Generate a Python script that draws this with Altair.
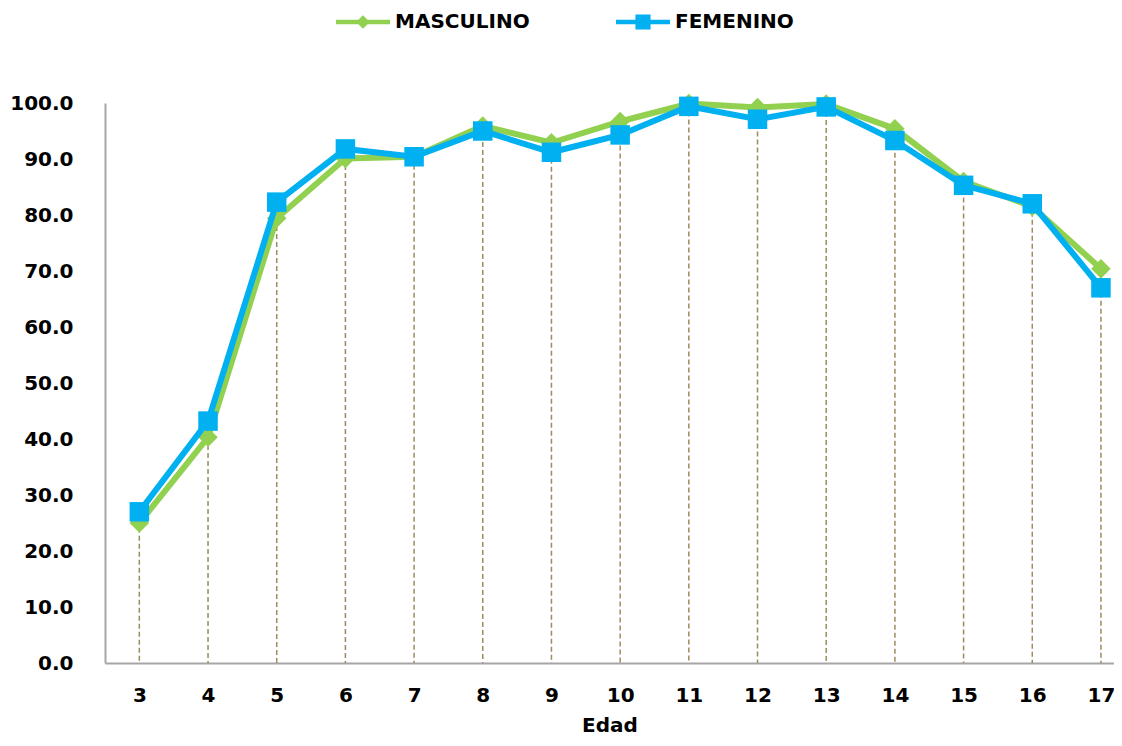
import altair as alt
import pandas as pd

ages = list(range(3, 18))
masculino = [25.0, 40.3, 79.4, 90.1, 90.4, 95.9, 92.9, 96.7, 99.9, 99.2, 99.8, 95.4, 86.0, 81.5, 70.4]
femenino = [27.0, 43.2, 82.3, 91.8, 90.4, 95.0, 91.2, 94.3, 99.4, 97.1, 99.3, 93.3, 85.3, 82.0, 67.0]
series = ["MASCULINO", "FEMENINO"]
colors = ["#92D050", "#00B0F0"]
shapes = ["diamond", "square"]
y_ticks = list(range(0, 101, 10))

FONT = "DejaVu Sans"

df = pd.DataFrame({
    "Edad": ages * 2,
    "Serie": [series[0]] * len(ages) + [series[1]] * len(ages),
    "Valor": masculino + femenino,
})
drop = pd.DataFrame({"Edad": ages, "Top": [max(a, b) for a, b in zip(masculino, femenino)]})

x_scale = alt.Scale(domain=[2.5, 17.19], nice=False, zero=False)
y_scale = alt.Scale(domain=[0, 100], nice=False)

x_axis = alt.Axis(values=ages, format="d", labelFont=FONT, labelFontSize=20, labelFontWeight="bold",
                  labelColor="black", labelPadding=22, ticks=False, grid=False,
                  domainColor="#a6a6a6", domainWidth=2, title="Edad", titleFont=FONT,
                  titleFontSize=20, titleFontWeight="bold", titleColor="black", titlePadding=10)
y_axis = alt.Axis(values=y_ticks, format=".1f", labelFont=FONT, labelFontSize=20, labelFontWeight="bold",
                  labelColor="black", labelPadding=32, ticks=False, grid=False,
                  domainColor="#a6a6a6", domainWidth=2, title=None)

base = alt.Chart(df)

drops = alt.Chart(drop).mark_rule(color="#9c8c5c", strokeDash=[5, 3], strokeWidth=1.5).encode(
    x=alt.X("Edad:Q", scale=x_scale, axis=x_axis),
    y=alt.Y("Top:Q", scale=y_scale, axis=y_axis),
    y2=alt.datum(0),
)

layers = [drops]
for name, col, shp in zip(series, colors, shapes):
    sub = base.transform_filter(alt.datum.Serie == name)
    layers.append(sub.mark_line(color=col, strokeWidth=6).encode(
        x=alt.X("Edad:Q", scale=x_scale), y=alt.Y("Valor:Q", scale=y_scale)))
    layers.append(sub.mark_point(color=col, filled=True, opacity=1, shape=shp, size=380).encode(
        x=alt.X("Edad:Q", scale=x_scale), y=alt.Y("Valor:Q", scale=y_scale)))

path_diamond = "M-1,-0.08L1,-0.08L1,0.08L-1,0.08Z M0,-0.25L0.25,0L0,0.25L-0.25,0Z"
path_square = "M-1,-0.08L1,-0.08L1,0.08L-1,0.08Z M-0.28,-0.28L0.28,-0.28L0.28,0.28L-0.28,0.28Z"

leg = alt.Legend(title=None, orient="none", legendX=231, legendY=-108, direction="horizontal",
                 columns=2, columnPadding=86, labelFont=FONT, labelFontSize=20, labelFontWeight="bold",
                 labelColor="black", labelOffset=5, symbolSize=2916, symbolStrokeWidth=0)
legend_layer = base.transform_filter("false").mark_point(filled=True, opacity=1, size=2916).encode(
    color=alt.Color("Serie:N", scale=alt.Scale(domain=series, range=colors), legend=leg),
    shape=alt.Shape("Serie:N", scale=alt.Scale(domain=series, range=[path_diamond, path_square]), legend=leg),
)
layers.append(legend_layer)

chart = alt.layer(*layers).properties(
    width=1009, height=560,
    autosize=alt.AutoSizeParams(type="none"),
    padding={"left": 97, "top": 95, "right": 0, "bottom": 75},
).configure_view(strokeWidth=0)

chart.save("out.html", embed_options={"renderer": "svg", "actions": False})
